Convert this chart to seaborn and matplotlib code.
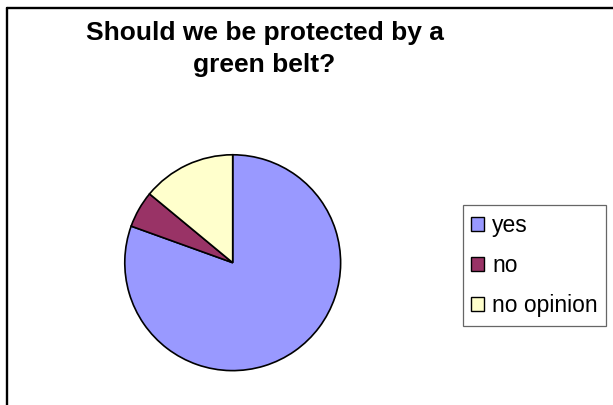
import matplotlib
matplotlib.use("Agg")
import matplotlib.pyplot as plt
from matplotlib.lines import Line2D
import seaborn as sns

# survey answers (share of responses, %)
answers = ["yes", "no", "no opinion"]
shares = [80.5, 5.5, 14.0]
colors = ["#9999FF", "#993366", "#FFFFCC"]

sns.set_theme(style="white")
plt.rcParams["font.family"] = ["Liberation Sans", "DejaVu Sans"]
plt.rcParams["text.color"] = "black"

fig = plt.figure(figsize=(6.13, 4.05), dpi=100)
fig.patch.set_facecolor("white")

# chart-area frame (only left and top edges are visible in the crop)
fig.add_artist(Line2D([6.5 / 613, 6.5 / 613], [0, 1 - 8 / 405], color="black", lw=1.7,
                      transform=fig.transFigure))
fig.add_artist(Line2D([6.5 / 613, 1], [1 - 8 / 405, 1 - 8 / 405], color="black", lw=1.7,
                      transform=fig.transFigure))

ax = fig.add_axes([123.7 / 613, 1 - 371.7 / 405, 218 / 613, 218 / 405])
wedges, _ = ax.pie(
    shares,
    colors=colors,
    startangle=90,
    counterclock=False,
    radius=1.0,
    wedgeprops={"edgecolor": "black", "linewidth": 1.2},
)
ax.set_xlim(-1.01, 1.01)
ax.set_ylim(-1.01, 1.01)
ax.set_aspect("equal")
ax.axis("off")

fig.text(264.5 / 613, 1 - 49 / 405, "Should we be protected by a\ngreen belt?",
         ha="center", va="center", fontsize=19, fontweight="bold",
         linespacing=1.4, color="black")

leg = fig.legend(
    wedges, answers,
    loc="upper left",
    bbox_to_anchor=(462.7 / 613, 1 - 205 / 405),
    bbox_transform=fig.transFigure,
    fontsize=16.5,
    frameon=True,
    fancybox=False,
    shadow=False,
    handlelength=0.55,
    handleheight=0.55,
    handletextpad=0.35,
    labelspacing=0.75,
    borderpad=0.38,
    borderaxespad=0,
)
leg.get_frame().set_edgecolor("#404040")
leg.get_frame().set_linewidth(0.9)
for t in leg.get_texts():
    t.set_color("black")
for h in leg.legend_handles:
    h.set_edgecolor("black")
    h.set_linewidth(1.0)

fig.savefig("out.png", dpi=100)
